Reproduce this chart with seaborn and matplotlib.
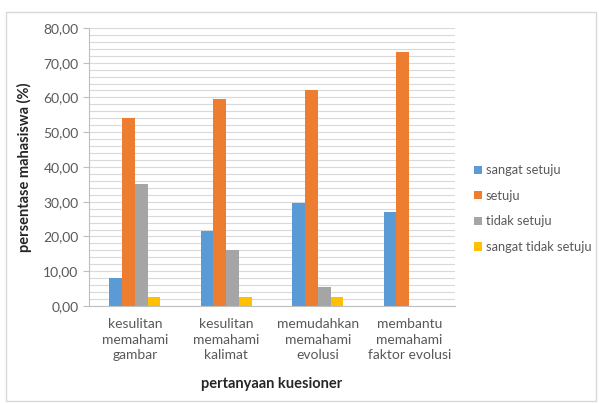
import pandas as pd
import seaborn as sns
import matplotlib.pyplot as plt
from matplotlib.ticker import MultipleLocator, FuncFormatter
from matplotlib.patches import Rectangle

# data
questions = ["kesulitan\nmemahami\ngambar", "kesulitan\nmemahami\nkalimat",
             "memudahkan\nmemahami\nevolusi", "membantu\nmemahami\nfaktor evolusi"]
responses = ["sangat setuju", "setuju", "tidak setuju", "sangat tidak setuju"]
sangat_setuju = [8.11, 21.62, 29.73, 27.03]
setuju = [54.05, 59.46, 62.16, 72.97]
tidak_setuju = [35.14, 16.22, 5.41, 0.0]
sangat_tidak_setuju = [2.70, 2.70, 2.70, 0.0]
colors = ["#5B9BD5", "#ED7D31", "#A5A5A5", "#FFC000"]

rows = []
for resp, vals in zip(responses, [sangat_setuju, setuju, tidak_setuju, sangat_tidak_setuju]):
    for q, v in zip(questions, vals):
        rows.append({"pertanyaan": q, "respon": resp, "persen": v})
df = pd.DataFrame(rows)

sns.set_style("white")
plt.rcParams['font.family'] = ['Lato', 'DejaVu Sans']

fig = plt.figure(figsize=(5.99, 4.03), dpi=100)
ax = fig.add_axes([0.1486, 0.2407, 0.611, 0.69])

sns.barplot(data=df, x="pertanyaan", y="persen", hue="respon", hue_order=responses,
            palette=colors, width=0.56, gap=0, saturation=1, errorbar=None,
            linewidth=0, ax=ax)

ax.set_ylim(0, 80)
ax.set_xlim(-0.5, 3.5)
ax.yaxis.set_major_locator(MultipleLocator(10))
ax.yaxis.set_minor_locator(MultipleLocator(2))
ax.yaxis.set_major_formatter(FuncFormatter(lambda v, p: f"{v:.2f}".replace(".", ",")))
ax.grid(True, axis="y", which="both", color="#D9D9D9", linewidth=0.8)
ax.set_axisbelow(True)
for s in ["top", "right"]:
    ax.spines[s].set_visible(False)
ax.spines["left"].set_color("#BFBFBF")
ax.spines["bottom"].set_color("#BFBFBF")
ax.tick_params(axis="y", which="major", length=4, color="#BFBFBF", labelsize=10,
               labelcolor="#595959", left=True)
ax.tick_params(axis="y", which="minor", length=0)
ax.tick_params(axis="x", length=0, labelsize=10, labelcolor="#595959", pad=9)
for lbl in ax.get_xticklabels():
    lbl.set_linespacing(1.35)
ax.set_ylabel("persentase mahasiswa (%)", fontsize=10.5, fontweight="bold", labelpad=8)
ax.set_xlabel("pertanyaan kuesioner", fontsize=10.5, fontweight="bold", labelpad=11)

ax.legend(loc="center left", bbox_to_anchor=(1.02, 0.35), frameon=False, fontsize=9.3,
          handlelength=0.6, handleheight=0.6, handletextpad=0.3, labelspacing=1.05,
          labelcolor="#595959")

fig.patches.append(Rectangle((0.01, 0.005), 0.985, 0.965, transform=fig.transFigure,
                             fill=False, edgecolor="#D9D9D9", linewidth=1))

fig.savefig("out.png", dpi=100)
